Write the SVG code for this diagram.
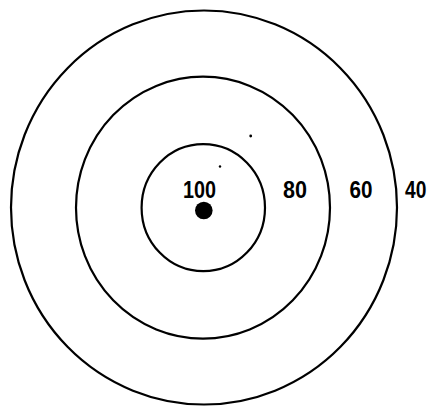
<svg xmlns="http://www.w3.org/2000/svg" width="429" height="407" viewBox="0 0 429 407">
<style>
.ring{fill:none;stroke:#000;stroke-width:2.2}
.lbl{font-family:"Liberation Sans",Arial,sans-serif;font-weight:bold;font-size:24px;fill:#000}
</style>
<rect width="429" height="407" fill="#fff"/>
<g id="ring-outer"><ellipse class="ring" cx="204" cy="207.5" rx="193" ry="197"/></g>
<g id="ring-middle"><ellipse class="ring" cx="203" cy="207.7" rx="127" ry="131"/></g>
<g id="ring-inner"><ellipse class="ring" cx="203.3" cy="207.7" rx="61.7" ry="63.5"/></g>
<g id="center-dot"><circle cx="203.8" cy="210.5" r="8.8" fill="#000"/></g>
<g id="labels">
<text class="lbl" x="183" y="198" textLength="33" lengthAdjust="spacingAndGlyphs">100</text>
<text class="lbl" x="283" y="198" textLength="24" lengthAdjust="spacingAndGlyphs">80</text>
<text class="lbl" x="349.5" y="198" textLength="23" lengthAdjust="spacingAndGlyphs">60</text>
<text class="lbl" transform="translate(405,198) scale(0.8,1)">40</text>
</g>
<g id="specks" fill="#000">
<circle cx="220" cy="166.5" r="1.2"/>
<circle cx="250.7" cy="136" r="1.4"/>
</g>
</svg>
